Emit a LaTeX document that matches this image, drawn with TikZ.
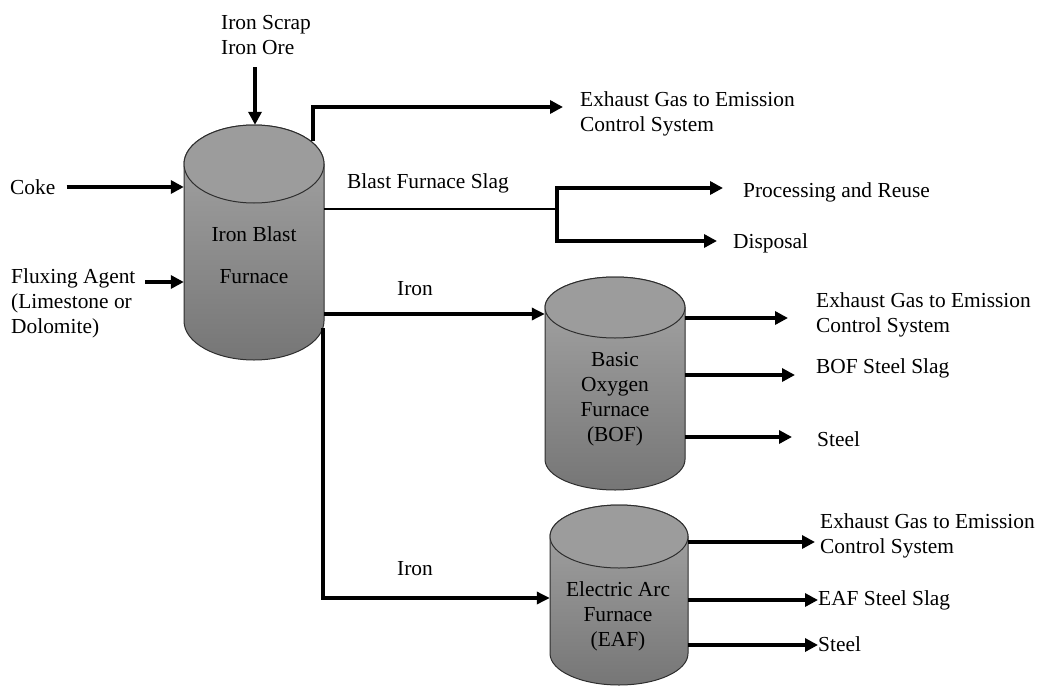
\documentclass[tikz,border=0pt]{standalone}
\usepackage{fontspec}
\setmainfont{Liberation Serif}
\usetikzlibrary{arrows.meta,calc}

\definecolor{bodytop}{HTML}{A6A6A6}
\definecolor{bodybot}{HTML}{767676}
\definecolor{capfill}{HTML}{9C9C9C}
\definecolor{edgegray}{HTML}{2E2E2E}

% cylinder: centre x, x radius, top-ellipse centre y, bottom-ellipse centre y, y radius
\newcommand\furnacedraw[5]{%
  \path[draw=edgegray, line width=1pt, top color=bodytop, bottom color=bodybot]
    (#1-#2,#3) -- (#1-#2,#4)
    arc[start angle=180, end angle=360, x radius=#2pt, y radius=#5pt]
    -- (#1+#2,#3)
    arc[start angle=0, end angle=180, x radius=#2pt, y radius=#5pt] -- cycle;
  \draw[draw=edgegray, line width=1pt, fill=capfill] (#1,#3) ellipse[x radius=#2pt, y radius=#5pt];
}

\tikzset{
  lbl/.style={anchor=west, inner sep=0pt, align=left, font=\fontsize{21.4}{25}\selectfont},
  inlbl/.style={inner sep=0pt, align=center, font=\fontsize{21.4}{25}\selectfont},
  body/.style={inner sep=0pt, draw=none, rectangle},
  flow/.style={line width=3.6pt, -{Triangle[length=13pt,width=13pt]}},
  ironflow/.style={line width=3.2pt, -{Triangle[length=13pt,width=12pt]}},
  slagline/.style={line width=1.5pt},
  branch/.style={line width=3.6pt, -{Triangle[length=13pt,width=13pt]}}
}

\begin{document}
\begin{tikzpicture}[x=1pt, y=-1pt]
\useasboundingbox (0,0) rectangle (1039,688);

% furnace bodies
\furnacedraw{254}{70}{164}{321}{39}
\furnacedraw{615}{70}{307.5}{459.5}{30.5}
\furnacedraw{619}{69}{536.5}{653.5}{31.5}

% named outlines of the three furnaces
\node[body, minimum width=140pt, minimum height=235pt] (bf)  at (254,242.5) {};
\node[body, minimum width=140pt, minimum height=213pt] (bof) at (615,383.5) {};
\node[body, minimum width=138pt, minimum height=180pt] (eaf) at (619,595) {};

% furnace captions
\node[inlbl] (bfname) at (254,255) {Iron Blast\\[17pt]Furnace};
\node[inlbl] (bofname) at (615,399) {Basic\\Oxygen\\Furnace\\(BOF)};
\node[inlbl] (eafname) at (618,616) {Electric Arc\\Furnace\\(EAF)};

% input labels
\node[lbl] (ore)  at (221,35)  {Iron Scrap\\Iron Ore};
\node[lbl] (coke) at (10,187)  {Coke};
\node[lbl] (flux) at (11,303)  {Fluxing Agent\\(Limestone or\\Dolomite)};

% output labels
\node[lbl] (gas)   at (580,114) {Exhaust Gas to Emission\\Control System};
\node[lbl] (slag)  at (347,183) {Blast Furnace Slag};
\node[lbl] (reuse) at (743,192) {Processing and Reuse};
\node[lbl] (disp)  at (733,243) {Disposal};
\node[lbl] (iron1) at (397,289) {Iron};
\node[lbl] (iron2) at (397,569) {Iron};
\node[lbl] (bofgas)  at (816,315) {Exhaust Gas to Emission\\Control System};
\node[lbl] (bofslag) at (816,368) {BOF Steel Slag};
\node[lbl] (bofst)   at (817,439) {Steel};
\node[lbl] (eafgas)  at (820,536) {Exhaust Gas to Emission\\Control System};
\node[lbl] (eafslag) at (818,600) {EAF Steel Slag};
\node[lbl] (eafst)   at (818,644) {Steel};

% route points
\coordinate (orefeed) at (255,67);
\coordinate (fluxfeed) at (145,282);
\coordinate (bftop) at (313,141);
\coordinate (gastip) at (563,107);
\coordinate (split) at (557,209);
\coordinate (reusetip) at (723,188);
\coordinate (disptip) at (717,241);
\coordinate (ironA) at (0,314);
\coordinate (bfdown) at (323,328);
\coordinate (ironB) at (0,598);
\coordinate (b1) at (788,318);
\coordinate (b2) at (795,375);
\coordinate (b3) at (792,437);
\coordinate (e1) at (815,542);
\coordinate (e2) at (818,600);
\coordinate (e3) at (818,645);

% feeds into the blast furnace
\draw[flow] (orefeed) -- (orefeed |- bf.north);
\draw[flow] ([xshift=11pt]coke.east) -- (coke.east -| bf.west);
\draw[flow] (fluxfeed) -- (fluxfeed -| bf.west);

% blast furnace outputs
\draw[flow] (bftop) |- (gastip);
\draw[slagline] (bf.east |- split) -- (split);
\draw[branch] (split) |- (reusetip);
\draw[branch] (split) |- (disptip);
\draw[ironflow] (bf.east |- ironA) -- (bof.west |- ironA);
\draw[ironflow] (bfdown) |- (eaf.west |- ironB);

% BOF outputs
\draw[flow] (bof.east |- b1) -- (b1);
\draw[flow] (bof.east |- b2) -- (b2);
\draw[flow] (bof.east |- b3) -- (b3);

% EAF outputs
\draw[flow] (eaf.east |- e1) -- (e1);
\draw[flow] (eaf.east |- e2) -- (e2);
\draw[flow] (eaf.east |- e3) -- (e3);
\end{tikzpicture}
\end{document}
